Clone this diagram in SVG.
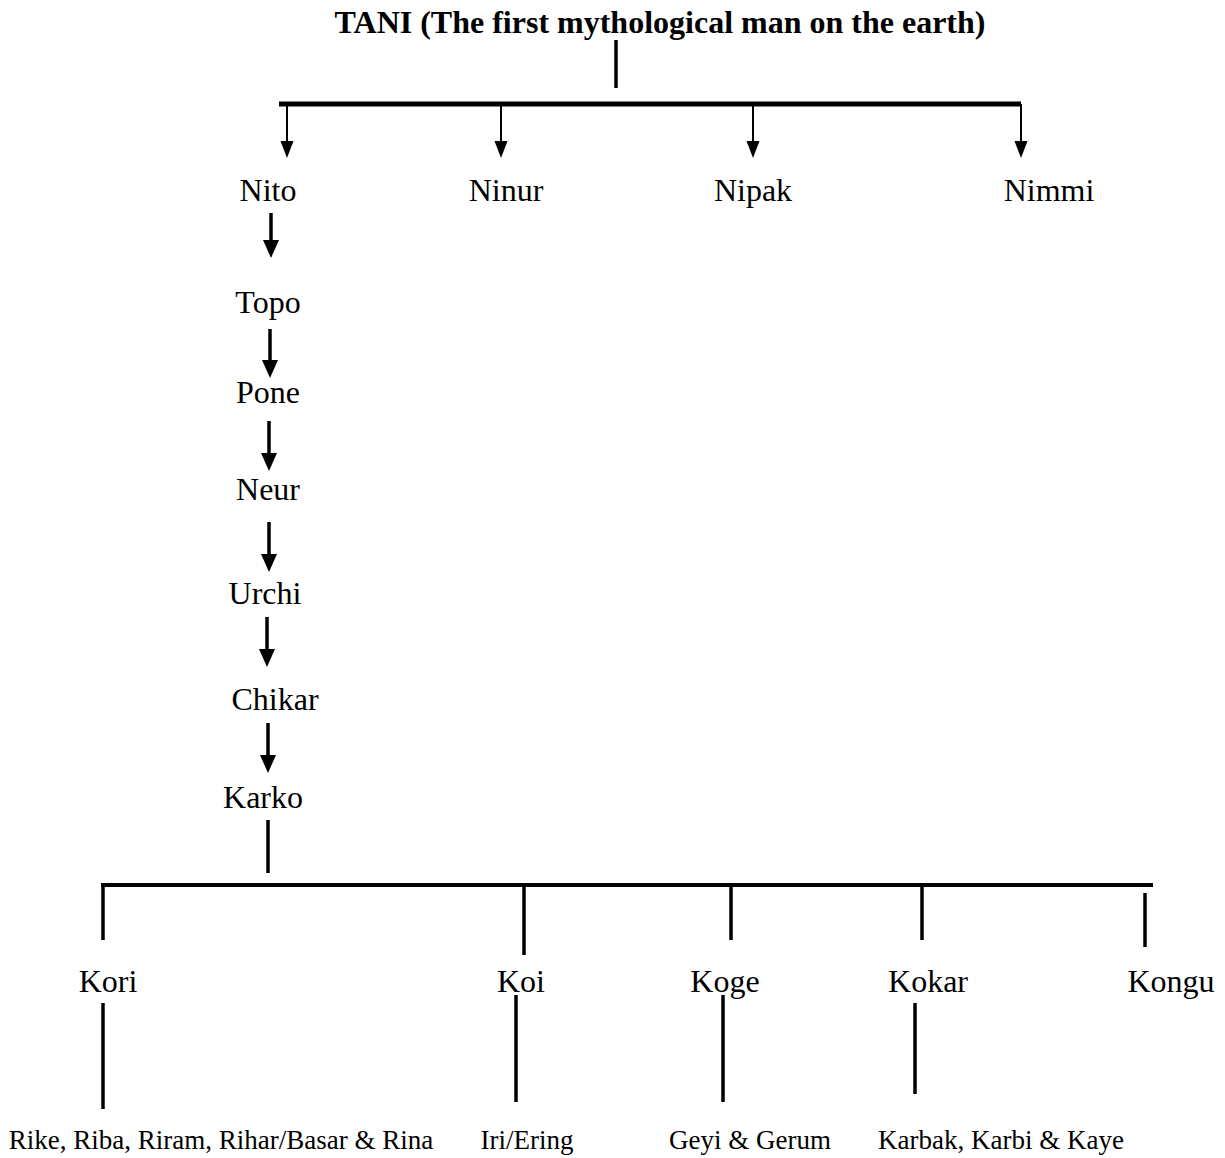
<svg xmlns="http://www.w3.org/2000/svg" width="1225" height="1158" viewBox="0 0 1225 1158">
<style>
text{font-family:"Liberation Serif","Times New Roman",serif;fill:#000;text-anchor:middle}
.t{font-size:32px;font-weight:bold}
.n{font-size:32px}
.s{font-size:27px}
.thin{stroke:#000;stroke-width:2;fill:none}
.mid{stroke:#000;stroke-width:3.5;fill:none}
.bar{stroke:#000;stroke-width:5;fill:none}
.bar2{stroke:#000;stroke-width:4;fill:none}
</style>
<defs>
<marker id="ah1" markerUnits="userSpaceOnUse" markerWidth="13" markerHeight="17" refX="6.5" refY="16" orient="auto" viewBox="0 0 13 17">
<path d="M0,0 L13,0 L6.5,17 Z" fill="#000" transform="rotate(-90 6.5 8.5) translate(0 0)"/>
</marker>
</defs>
<rect width="1225" height="1158" fill="#fff"/>
<g id="connectors">
<line class="mid" x1="616" y1="40" x2="616" y2="88"/>
<line class="bar" x1="279" y1="104" x2="1021" y2="104"/>
<g class="thin">
<line x1="287" y1="104" x2="287" y2="142"/><polygon points="280.5,141 293.5,141 287,158" fill="#000" stroke="none"/>
<line x1="501" y1="104" x2="501" y2="142"/><polygon points="494.5,141 507.5,141 501,158" fill="#000" stroke="none"/>
<line x1="753" y1="104" x2="753" y2="142"/><polygon points="746.5,141 759.5,141 753,158" fill="#000" stroke="none"/>
<line x1="1021" y1="104" x2="1021" y2="142"/><polygon points="1014.5,141 1027.5,141 1021,158" fill="#000" stroke="none"/>
</g>
<g class="mid">
<line x1="271" y1="213" x2="271" y2="242"/><polygon points="263,240 279,240 271,258" fill="#000" stroke="none"/>
<line x1="270" y1="329" x2="270" y2="362"/><polygon points="262,360 278,360 270,378" fill="#000" stroke="none"/>
<line x1="269" y1="421" x2="269" y2="455"/><polygon points="261,453 277,453 269,471" fill="#000" stroke="none"/>
<line x1="269" y1="522" x2="269" y2="556"/><polygon points="261,554 277,554 269,572" fill="#000" stroke="none"/>
<line x1="267" y1="617" x2="267" y2="651"/><polygon points="259,649 275,649 267,667" fill="#000" stroke="none"/>
<line x1="268" y1="723" x2="268" y2="757"/><polygon points="260,755 276,755 268,773" fill="#000" stroke="none"/>
<line x1="268" y1="820" x2="268" y2="873"/>
</g>
<line class="bar2" x1="101" y1="885" x2="1153" y2="885"/>
<g class="mid">
<line x1="103" y1="885" x2="103" y2="940"/>
<line x1="524" y1="885" x2="524" y2="955"/>
<line x1="731" y1="885" x2="731" y2="940"/>
<line x1="922" y1="885" x2="922" y2="940"/>
<line x1="1145" y1="893" x2="1145" y2="947"/>
<line x1="103" y1="1003" x2="103" y2="1109"/>
<line x1="516" y1="995" x2="516" y2="1102"/>
<line x1="723" y1="995" x2="723" y2="1102"/>
<line x1="915" y1="1003" x2="915" y2="1094"/>
</g>
</g>
<g id="tani"><text class="t" x="660" y="33">TANI (The first mythological man on the earth)</text></g>
<g id="nito"><text class="n" x="268" y="201">Nito</text></g>
<g id="ninur"><text class="n" x="506" y="201">Ninur</text></g>
<g id="nipak"><text class="n" x="753" y="201">Nipak</text></g>
<g id="nimmi"><text class="n" x="1049" y="201">Nimmi</text></g>
<g id="topo"><text class="n" x="268" y="313">Topo</text></g>
<g id="pone"><text class="n" x="268" y="403">Pone</text></g>
<g id="neur"><text class="n" x="268" y="500">Neur</text></g>
<g id="urchi"><text class="n" x="265" y="604">Urchi</text></g>
<g id="chikar"><text class="n" x="275" y="710">Chikar</text></g>
<g id="karko"><text class="n" x="263" y="808">Karko</text></g>
<g id="kori"><text class="n" x="108" y="992">Kori</text></g>
<g id="koi"><text class="n" x="521" y="992">Koi</text></g>
<g id="koge"><text class="n" x="725" y="992">Koge</text></g>
<g id="kokar"><text class="n" x="928" y="992">Kokar</text></g>
<g id="kongu"><text class="n" x="1171" y="992">Kongu</text></g>
<g id="rike"><text class="s" x="221" y="1149">Rike, Riba, Riram, Rihar/Basar &amp; Rina</text></g>
<g id="iri"><text class="s" x="527" y="1149">Iri/Ering</text></g>
<g id="geyi"><text class="s" x="750" y="1149">Geyi &amp; Gerum</text></g>
<g id="karbak"><text class="s" x="1001" y="1149">Karbak, Karbi &amp; Kaye</text></g>
</svg>
